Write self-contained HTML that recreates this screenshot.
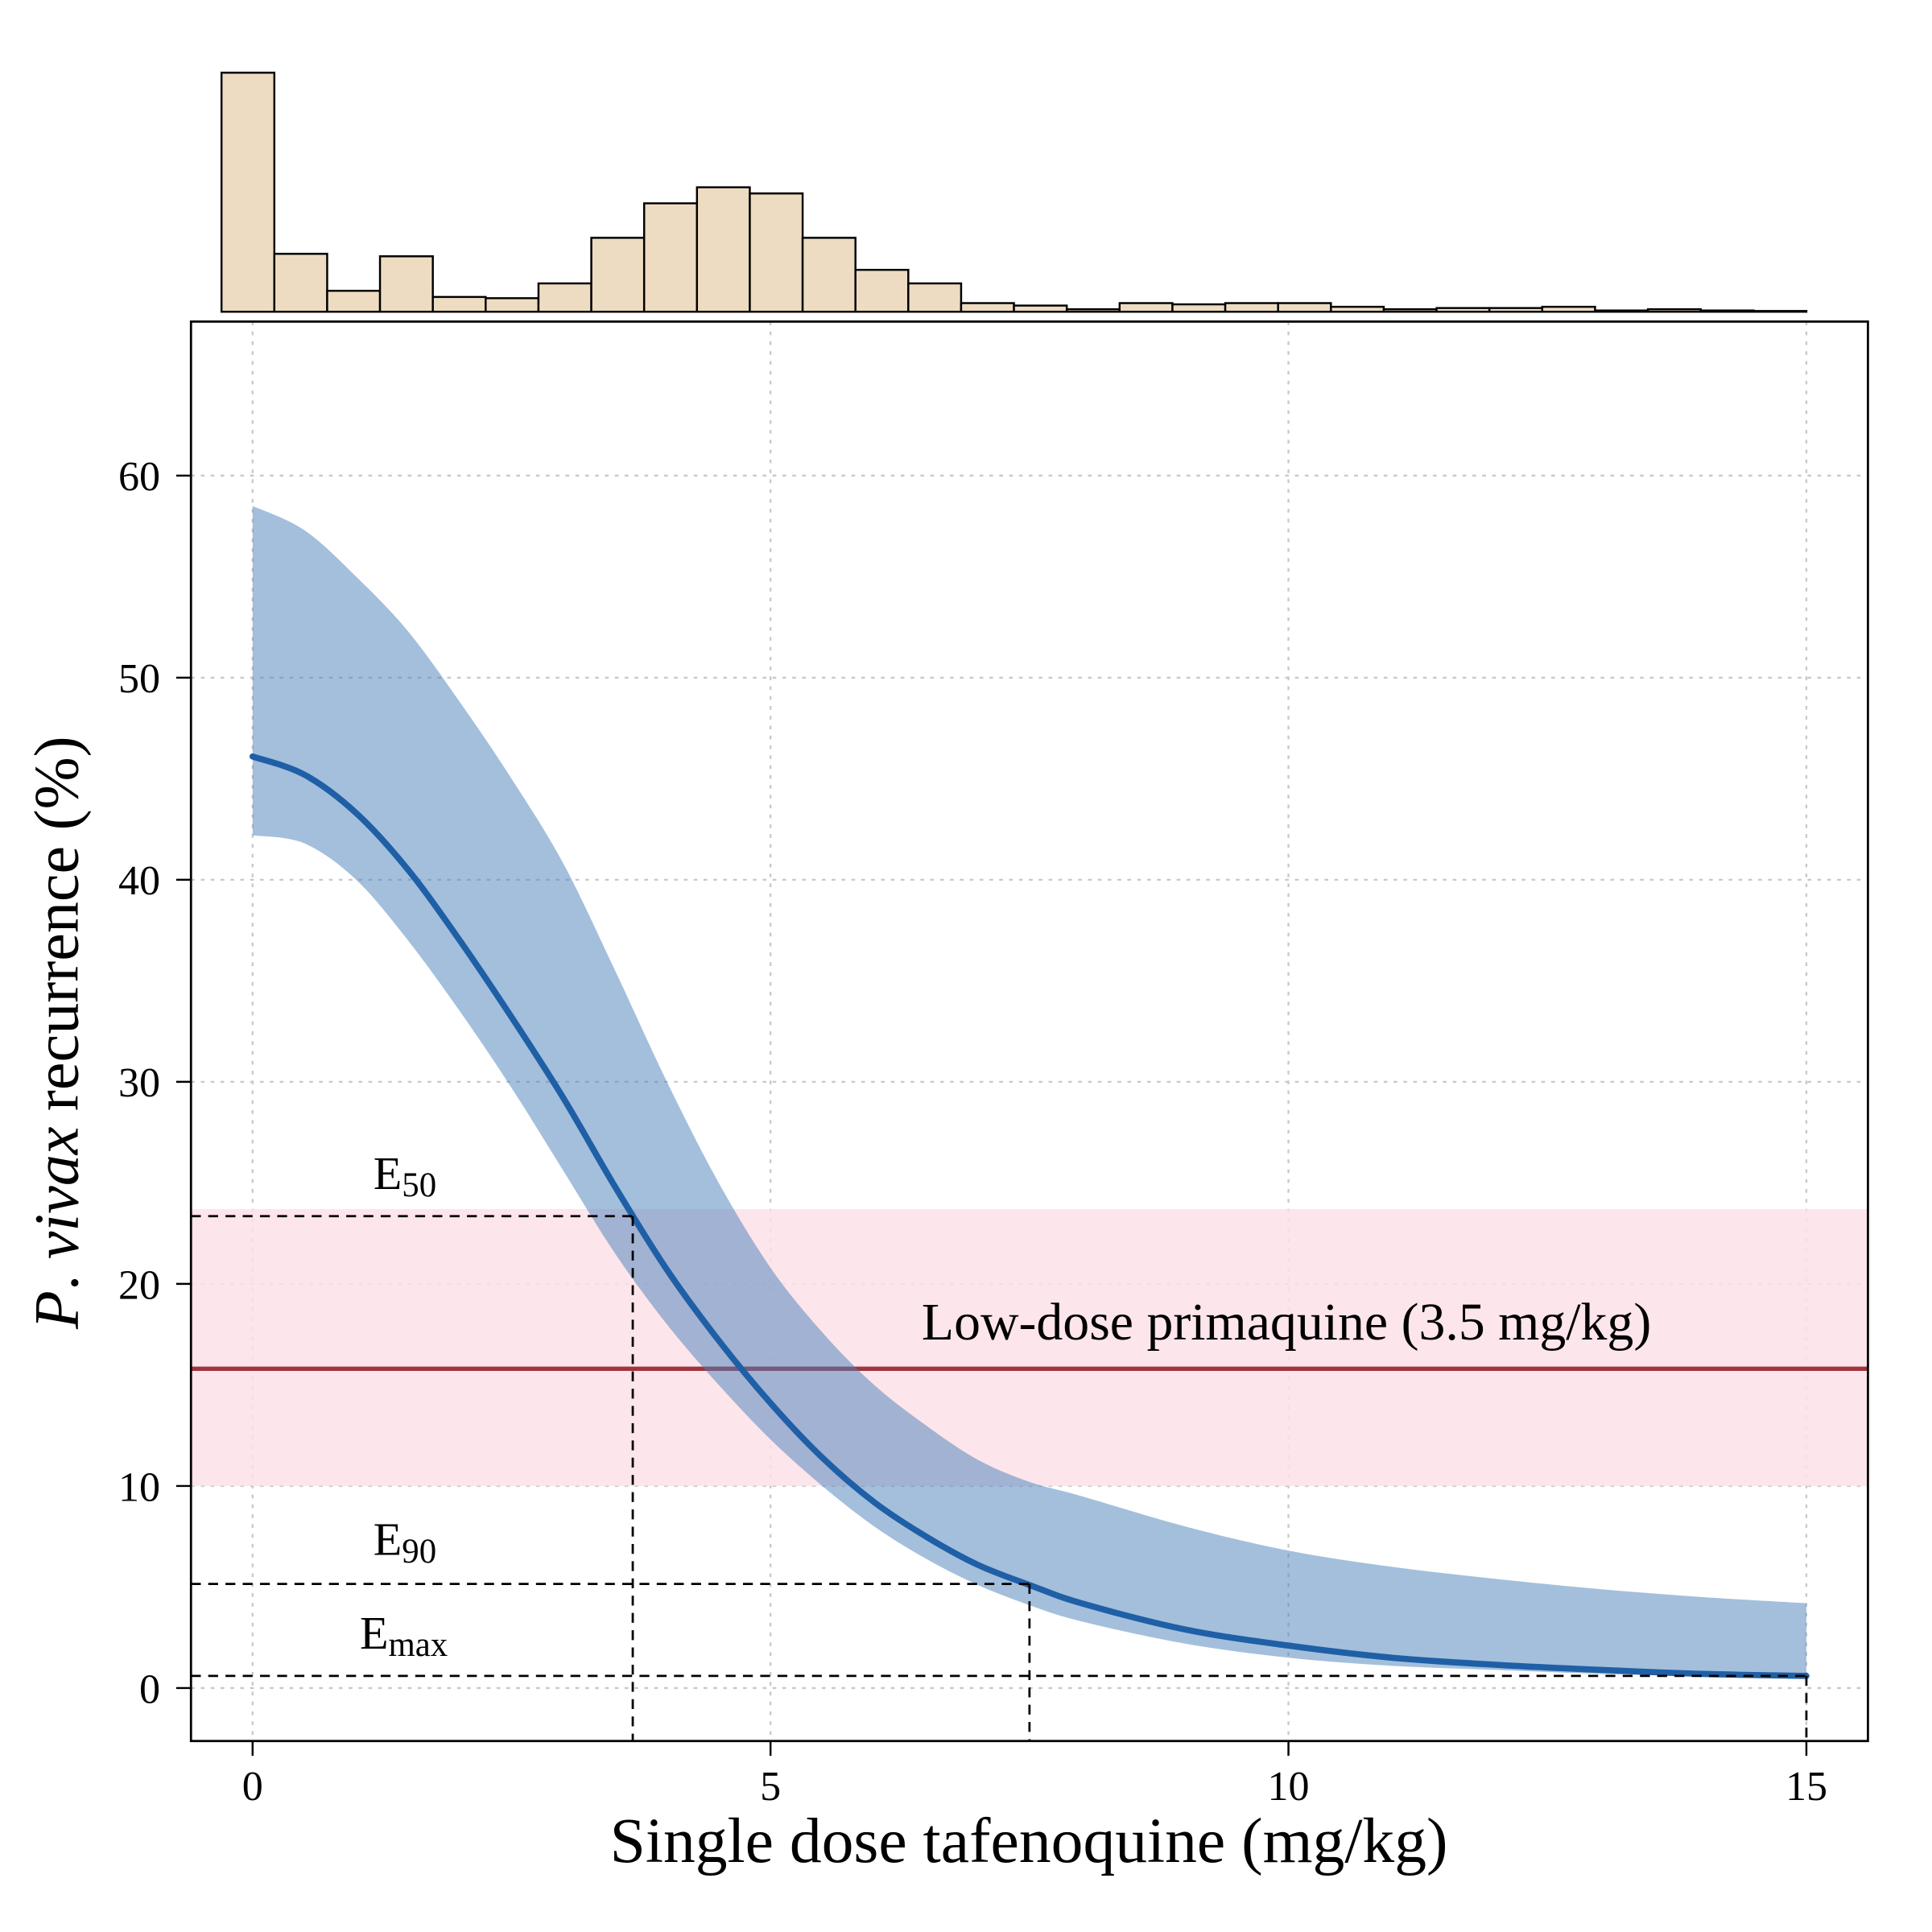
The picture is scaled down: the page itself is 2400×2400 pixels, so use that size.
<!DOCTYPE html>
<html><head><meta charset="utf-8"><style>html,body{margin:0;padding:0;background:#fff}svg{display:block}</style></head>
<body>
<svg id="chart" width="2400" height="2400" viewBox="0 0 1568 1568" xmlns="http://www.w3.org/2000/svg" font-family="Liberation Serif, serif">
<g id="hist"></g>
<g id="plot"></g>
</svg>
<script>
const histCounts = [194,47,17,45,12,11,23,60,88,101,96,60,34,23,7,5,2,7,6,7,7,4,2,3,3,4,1,2,1,0.6];
const histStart = -0.3, histBinWidth = 0.51;
const doses = [0,0.5,1,1.5,2,2.5,3,3.5,4,4.5,5,5.5,6,6.5,7,7.5,8,9,10,11,12,13,14,15];
const meanRec = [46.1,45.2,43.3,40.5,37.0,33.2,29.2,24.8,20.7,17.2,14.1,11.4,9.2,7.5,6.1,5.1,4.2,2.9,2.1,1.5,1.15,0.9,0.7,0.6];
const upperRec = [58.5,57.3,55,52.3,48.8,45,40.8,35.5,30,25,20.8,17.6,15,13,11.3,10.2,9.5,8,6.8,6.0,5.4,4.9,4.5,4.2];
const lowerRec = [42.2,41.8,40,37,33.5,29.7,25.6,21.5,18,15,12.3,10,8,6.4,5.1,4.1,3.3,2.2,1.5,1.1,0.9,0.7,0.6,0.5];
const xTicks = [0,5,10,15];
const yTicks = [0,10,20,30,40,50,60];
const pqMean = 15.8, pqLow = 10, pqHigh = 23.7;
const e50 = [3.67,23.35], e90 = [7.5,5.15], emax = [15,0.6];

const X = v => 205 + v*84.07;
const Y = v => 1370 - v*16.4;
const HY = c => 253 - c;
const NS = 'http://www.w3.org/2000/svg';
function mk(parent, tag, attrs){const e=document.createElementNS(NS,tag);for(const k in attrs)e.setAttribute(k,attrs[k]);parent.appendChild(e);return e;}
const hist = document.getElementById('hist');
const plot = document.getElementById('plot');
function smooth(pts, start){
  let md=(start?'M':'L')+pts[0][0]+','+pts[0][1];
  for(let i=0;i<pts.length-1;i++){const p0=pts[Math.max(0,i-1)],p1=pts[i],p2=pts[i+1],p3=pts[Math.min(pts.length-1,i+2)];
  md+=` C${p1[0]+(p2[0]-p0[0])/6},${p1[1]+(p2[1]-p0[1])/6} ${p2[0]-(p3[0]-p1[0])/6},${p2[1]-(p3[1]-p1[1])/6} ${p2[0]},${p2[1]}`;}
  return md;
}

histCounts.forEach((c,i)=>{
  const x0 = X(histStart + i*histBinWidth), x1 = X(histStart+(i+1)*histBinWidth);
  const r = mk(hist,'rect',{x:x0,y:HY(c),width:x1-x0,height:c,fill:'#eddcc1',stroke:'#000','stroke-width':1.6});
  
  
});

xTicks.forEach(t=>{const l=mk(plot,'line',{x1:X(t),x2:X(t),y1:261,y2:1413,stroke:'#c8c8c8','stroke-width':1.5,'stroke-dasharray':'3 5'});

});
yTicks.forEach(t=>{const l=mk(plot,'line',{x1:155,x2:1516,y1:Y(t),y2:Y(t),stroke:'#c8c8c8','stroke-width':1.5,'stroke-dasharray':'3 5'});

});

const pb = mk(plot,'rect',{x:155,y:Y(pqHigh),width:1361,height:Y(pqLow)-Y(pqHigh),fill:'#fbe0e8',opacity:0.85});


const pl = mk(plot,'line',{x1:155,x2:1516,y1:Y(pqMean),y2:Y(pqMean),stroke:'#a0343c','stroke-width':3.5});



const up = doses.map((x,i)=>[X(x),Y(upperRec[i])]);
const lo = doses.map((x,i)=>[X(x),Y(lowerRec[i])]).reverse();
const rb = mk(plot,'path',{d:smooth(up,true)+' '+smooth(lo,false)+' Z',fill:'rgb(72,128,186)','fill-opacity':0.5});


const pts = doses.map((x,i)=>[X(x),Y(meanRec[i])]);
const ml = mk(plot,'path',{d:smooth(pts,true),fill:'none',stroke:'#1f5fa6','stroke-width':5,'stroke-linecap':'round'});



[[e50,'e50'],[e90,'e90'],[emax,'emax']].forEach(([p,n])=>{
  const h=mk(plot,'line',{x1:155,x2:X(p[0]),y1:Y(p[1]),y2:Y(p[1]),stroke:'#000','stroke-width':1.8,'stroke-dasharray':'8 6'});
  
  
  const v=mk(plot,'line',{x1:X(p[0]),x2:X(p[0]),y1:Y(p[1]),y2:1413,stroke:'#000','stroke-width':1.8,'stroke-dasharray':'8 6'});
  
  
});

const fr = mk(plot,'rect',{x:155,y:261,width:1361,height:1152,fill:'none',stroke:'#000','stroke-width':1.8});



xTicks.forEach(t=>{
  mk(plot,'line',{x1:X(t),x2:X(t),y1:1413,y2:1425,stroke:'#000','stroke-width':1.6});
  const tx=mk(plot,'text',{x:X(t),y:1461,'font-size':34,'text-anchor':'middle'});tx.textContent=t;
  
  
});
yTicks.forEach(t=>{
  mk(plot,'line',{x1:143,x2:155,y1:Y(t),y2:Y(t),stroke:'#000','stroke-width':1.6});
  const tx=mk(plot,'text',{x:130,y:Y(t)+12,'font-size':34,'text-anchor':'end'});tx.textContent=t;
  
  
});
</script>
<svg style="position:absolute;left:0;top:0" width="2400" height="2400" viewBox="0 0 1568 1568" font-family="Liberation Serif, serif">
<text x="835" y="1511" font-size="52" text-anchor="middle">Single dose tafenoquine (mg/kg)</text>
<text transform="translate(63,838) rotate(-90)" font-size="51" text-anchor="middle"><tspan font-style="italic">P</tspan>. <tspan font-style="italic">vivax</tspan> recurrence (%)</text>
<text x="748" y="1087" font-size="43">Low-dose primaquine (3.5 mg/kg)</text>
<text x="303" y="965" font-size="38">E<tspan font-size="28" dy="6">50</tspan></text>
<text x="303" y="1262" font-size="38">E<tspan font-size="28" dy="6">90</tspan></text>
<text x="292" y="1338" font-size="38">E<tspan font-size="28" dy="6">max</tspan></text>
</svg>
</body></html>
